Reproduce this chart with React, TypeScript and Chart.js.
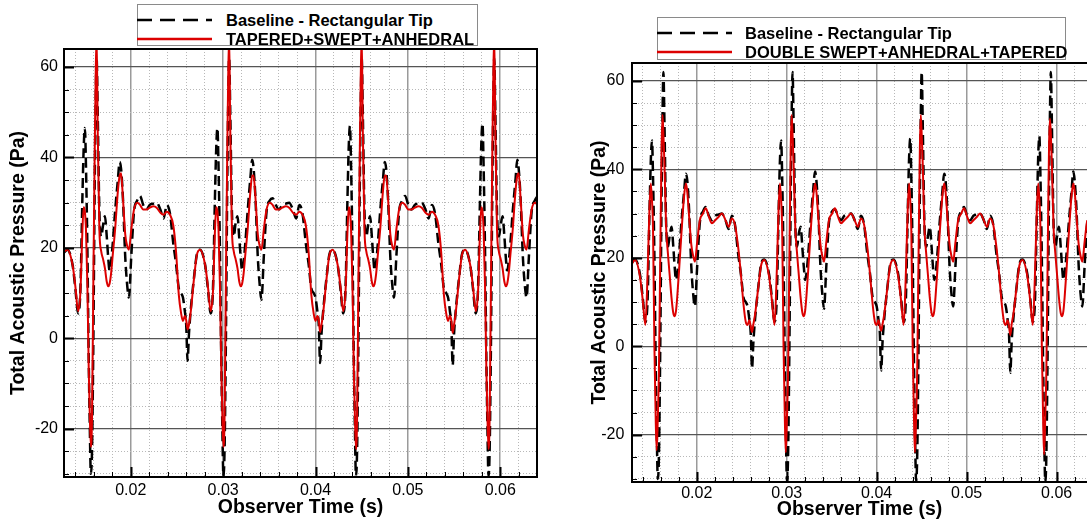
import React, { useEffect, useRef } from "react";
import { Chart, registerables } from "chart.js";

Chart.register(...registerables);

const FONT = '"Liberation Sans", Arial, Helvetica, sans-serif';

// Observer time in milliseconds
const timeMs = [
  12.8, 13.15, 13.7, 14.0, 14.3, 14.55, 14.75, 14.9, 15.03, 15.15, 15.3, 15.45, 15.55, 15.68, 15.8, 15.95, 16.1, 16.2, 16.3, 16.42, 16.6, 16.8, 17.0, 17.2, 17.4, 17.55, 17.7, 17.85, 18.05, 18.3, 18.6, 18.8, 18.95, 19.15, 19.4, 19.6, 19.8, 20.05, 20.35, 20.7, 21.0, 21.35, 21.7, 22.05, 22.45, 22.8, 23.2, 23.55, 23.9, 24.25, 24.6, 24.9, 25.2, 25.45, 25.65, 25.85, 26.0, 26.15, 26.3, 26.5, 26.85,
  27.15, 27.5, 28.05, 28.35, 28.65, 28.9, 29.1, 29.25, 29.38, 29.5, 29.65, 29.8, 29.9, 30.03, 30.15, 30.3, 30.45, 30.55, 30.65, 30.77, 30.95, 31.15, 31.35, 31.55, 31.75, 31.9, 32.05, 32.2, 32.4, 32.65, 32.95, 33.15, 33.3, 33.5, 33.75, 33.95, 34.15, 34.4, 34.7, 35.05, 35.35, 35.7, 36.05, 36.4, 36.8, 37.15, 37.55, 37.9, 38.25, 38.6, 38.95, 39.25, 39.55, 39.8, 40.0, 40.2, 40.35, 40.5, 40.65, 40.85, 41.2,
  41.5, 41.85, 42.4, 42.7, 43.0, 43.25, 43.45, 43.6, 43.73, 43.85, 44.0, 44.15, 44.25, 44.38, 44.5, 44.65, 44.8, 44.9, 45.0, 45.12, 45.3, 45.5, 45.7, 45.9, 46.1, 46.25, 46.4, 46.55, 46.75, 47.0, 47.3, 47.5, 47.65, 47.85, 48.1, 48.3, 48.5, 48.75, 49.05, 49.4, 49.7, 50.05, 50.4, 50.75, 51.15, 51.5, 51.9, 52.25, 52.6, 52.95, 53.3, 53.6, 53.9, 54.15, 54.35, 54.55, 54.7, 54.85, 55.0, 55.2, 55.55,
  55.85, 56.2, 56.75, 57.05, 57.35, 57.6, 57.8, 57.95, 58.08, 58.2, 58.35, 58.5, 58.6, 58.73, 58.85, 59.0, 59.15, 59.25, 59.35, 59.47, 59.65, 59.85, 60.05, 60.25, 60.45, 60.6, 60.75, 60.9, 61.1, 61.35, 61.65, 61.85, 62.0, 62.2, 62.45, 62.65, 62.85, 63.1, 63.4, 63.75, 64.05,
];

const baselineRectangularTip = [
  19.0, 19.6, 16.2, 11.0, 5.5, 11.0, 30.0, 42.0, 46.5, 38.0, 20.0, -5.0, -18.0, -30.0, -25.0, 0.0, 35.0, 52.0, 62.0, 50.0, 28.0, 22.5, 25.0, 27.0, 22.5, 18.0, 15.0, 16.5, 21.0, 28.0, 35.0, 39.0, 37.5, 31.0, 18.0, 12.0, 9.0, 18.0, 28.0, 30.5, 31.5, 29.5, 28.5, 29.5, 29.8, 30.0, 28.5, 26.5, 29.5, 27.5, 21.0, 16.5, 11.0, 10.0, 9.0, 6.0, 3.0, -5.0, 1.0, 6.5, 13.5,
  18.5, 19.6, 16.2, 11.0, 5.5, 11.0, 30.0, 42.0, 46.5, 38.0, 20.0, -5.0, -18.0, -30.5, -25.0, 0.0, 35.0, 52.0, 62.0, 50.0, 28.0, 22.5, 25.5, 27.0, 22.0, 18.0, 15.0, 16.5, 21.0, 28.0, 35.5, 39.5, 37.5, 31.0, 18.0, 12.0, 8.5, 18.0, 28.0, 30.5, 31.0, 29.5, 28.5, 29.5, 29.8, 30.0, 28.5, 26.5, 29.5, 27.5, 21.0, 16.5, 11.0, 10.0, 9.0, 6.0, 3.0, -5.5, 1.0, 6.5, 13.5,
  18.5, 19.6, 16.2, 11.0, 5.5, 11.0, 30.0, 42.5, 47.0, 38.0, 20.0, -5.0, -18.0, -30.5, -25.0, 0.0, 35.0, 52.0, 62.0, 50.0, 28.0, 22.5, 25.0, 27.0, 22.5, 18.0, 15.0, 16.5, 21.0, 28.0, 35.0, 39.0, 37.5, 31.0, 18.0, 12.0, 9.0, 18.0, 28.0, 30.5, 31.5, 29.5, 28.5, 29.5, 29.8, 30.0, 28.5, 26.5, 29.5, 27.5, 21.0, 16.5, 11.0, 10.0, 9.0, 6.0, 3.0, -6.0, 1.0, 6.5, 13.5,
  18.5, 19.6, 16.2, 11.0, 5.5, 11.0, 30.0, 43.0, 47.5, 38.0, 20.0, -5.0, -18.0, -30.5, -25.0, 0.0, 35.0, 52.0, 62.0, 50.0, 28.0, 22.5, 25.0, 27.0, 22.5, 18.0, 15.0, 16.5, 21.0, 28.0, 35.0, 39.5, 37.5, 31.0, 18.0, 12.0, 9.0, 18.0, 28.0, 30.5, 31.5,
];

const taperedSweptAnhedral = [
  19.2, 19.6, 16.2, 11.5, 6.0, 10.4, 23.0, 29.0, 28.0, 24.0, 12.0, -7.0, -16.0, -24.0, -18.0, 13.0, 42.0, 58.0, 67.0, 46.0, 24.0, 19.2, 17.5, 15.5, 12.5, 11.5, 12.0, 14.0, 18.5, 24.0, 32.5, 36.0, 36.5, 31.0, 23.0, 20.5, 19.6, 24.0, 28.5, 30.0, 29.5, 28.5, 28.5, 28.9, 29.2, 28.9, 27.8, 27.3, 28.0, 27.3, 25.0, 19.2, 9.6, 5.5, 3.8, 4.9, 4.0, 2.0, 3.0, 6.0, 13.3,
  18.4, 19.6, 16.2, 11.5, 6.0, 10.4, 23.0, 29.0, 28.0, 24.0, 12.0, -7.0, -16.0, -24.0, -18.0, 13.0, 42.0, 58.0, 67.0, 46.0, 24.0, 19.2, 17.5, 15.5, 12.5, 11.5, 12.0, 14.0, 18.5, 24.0, 32.5, 36.0, 36.0, 31.0, 23.0, 20.5, 19.6, 24.0, 28.5, 30.0, 29.5, 28.5, 28.5, 28.9, 29.2, 28.9, 27.8, 27.3, 28.0, 27.3, 25.0, 19.2, 9.6, 5.5, 3.8, 4.9, 4.0, 1.4, 3.0, 6.0, 13.3,
  18.4, 19.6, 16.2, 11.5, 6.0, 10.4, 23.0, 29.0, 28.0, 24.0, 12.0, -7.0, -16.0, -24.5, -18.0, 13.0, 42.0, 58.0, 67.0, 46.0, 24.0, 19.2, 17.5, 15.5, 12.5, 11.5, 12.0, 14.0, 18.5, 24.0, 32.5, 36.0, 36.0, 31.0, 23.0, 20.5, 19.6, 24.0, 28.5, 30.0, 29.5, 28.5, 28.5, 28.9, 29.2, 28.9, 27.8, 27.3, 28.0, 27.3, 25.0, 19.2, 9.6, 5.5, 3.8, 4.9, 4.0, 1.2, 3.0, 6.0, 13.3,
  18.4, 19.6, 16.2, 11.5, 6.0, 10.4, 23.0, 29.0, 28.0, 24.0, 12.0, -7.0, -16.0, -24.5, -18.0, 13.0, 42.0, 58.0, 67.0, 46.0, 24.0, 19.2, 17.5, 15.5, 12.5, 11.5, 12.0, 14.0, 18.5, 24.0, 32.5, 36.0, 36.5, 31.0, 23.0, 20.5, 19.6, 24.0, 28.5, 30.0, 29.5,
];

const doubleSweptAnhedralTapered = [
  18.7, 19.5, 15.7, 10.5, 4.8, 17.0, 31.0, 36.8, 33.0, 26.0, 0.0, -17.0, -23.5, -16.0, -6.0, 20.0, 45.0, 52.3, 48.0, 41.0, 27.0, 21.0, 16.0, 11.0, 7.5, 6.8, 8.0, 11.5, 17.5, 25.5, 34.0, 36.8, 35.0, 29.5, 23.0, 20.5, 19.1, 23.5, 28.5, 30.0, 31.2, 29.3, 27.8, 28.5, 29.3, 30.0, 28.5, 27.0, 28.9, 27.5, 22.5, 16.5, 9.5, 5.5, 4.8, 5.9, 4.5, 3.2, 5.0, 7.4, 13.4,
  18.2, 19.5, 15.7, 10.5, 4.8, 17.0, 31.0, 36.8, 33.0, 26.0, 0.0, -17.0, -24.0, -16.0, -6.0, 20.0, 45.0, 52.3, 48.0, 41.0, 27.0, 21.0, 16.0, 11.0, 7.5, 6.8, 8.0, 11.5, 17.5, 25.5, 34.0, 36.8, 35.0, 29.5, 23.0, 20.5, 19.1, 23.5, 28.5, 30.0, 31.2, 29.3, 27.8, 28.5, 29.3, 30.0, 28.5, 27.0, 28.9, 27.5, 22.5, 16.5, 9.5, 5.5, 4.8, 5.9, 4.5, 3.5, 5.0, 7.4, 13.4,
  18.2, 19.5, 15.7, 10.5, 4.8, 17.0, 31.0, 36.8, 33.0, 26.0, 0.0, -17.0, -24.0, -16.0, -6.0, 20.0, 45.0, 52.3, 48.0, 41.0, 27.0, 21.0, 16.0, 11.0, 7.5, 6.8, 8.0, 11.5, 17.5, 25.5, 34.0, 36.8, 35.0, 29.5, 23.0, 20.5, 19.1, 23.5, 28.5, 30.0, 31.2, 29.3, 27.8, 28.5, 29.3, 30.0, 28.5, 27.0, 28.9, 27.5, 22.5, 16.5, 9.5, 5.5, 4.8, 5.9, 4.5, 2.5, 5.0, 7.4, 13.4,
  18.2, 19.5, 15.7, 10.5, 4.8, 17.0, 31.0, 36.8, 33.0, 26.0, 0.0, -17.0, -24.5, -16.0, -6.0, 20.0, 45.0, 51.5, 48.0, 41.0, 27.0, 21.0, 16.0, 11.0, 7.5, 6.8, 8.0, 11.5, 17.5, 25.5, 34.0, 36.8, 35.0, 29.5, 23.0, 20.5, 19.1, 23.5, 28.5, 30.0, 31.2,
];

const xTickValues = [0.014, 0.016, 0.018, 0.02, 0.022, 0.024, 0.026, 0.028, 0.03, 0.032, 0.034, 0.036, 0.038, 0.04, 0.042, 0.044, 0.046, 0.048, 0.05, 0.052, 0.054, 0.056, 0.058, 0.06, 0.062];
const xMajorValues = [0.02, 0.03, 0.04, 0.05, 0.06];
const yTickValues = [-30, -25, -20, -15, -10, -5, 0, 5, 10, 15, 20, 25, 30, 35, 40, 45, 50, 55, 60];
const yMajorValues = [-20, 0, 20, 40, 60];

const baselineLabel = "Baseline - Rectangular Tip";
const leftRedLabel = "TAPERED+SWEPT+ANHEDRAL";
const rightRedLabel = "DOUBLE SWEPT+ANHEDRAL+TAPERED";

const isMajorX = (v: number) => xMajorValues.some((m) => Math.abs(m - v) < 1e-9);
const isMajorY = (v: number) => yMajorValues.some((m) => Math.abs(m - v) < 1e-9);

const RED = "#dc0000";

type Geom = {
  width: number;
  height: number;
  areaLeft: number;
  areaTop: number;
  areaRight: number;
  areaBottom: number;
  xMin: number;
  xMax: number;
  yMin: number;
  yMax: number;
  xLabelPad: number;
  yLabelPad: number;
  xTitlePad: number;
  yTitlePad: number;
  rightBorder: boolean;
};

const framePlugin = {
  id: "frame",
  afterDatasetsDraw(chart: any, _args: any, opts: any) {
    const { ctx, chartArea: a, scales } = chart;
    ctx.save();
    ctx.strokeStyle = "#000";
    for (const v of yTickValues) {
      const py = Math.round(scales.y.getPixelForValue(v)) + 0.5;
      const major = isMajorY(v);
      ctx.lineWidth = major ? 2 : 1;
      ctx.beginPath();
      ctx.moveTo(a.left, py);
      ctx.lineTo(a.left + (major ? 10 : 5), py);
      ctx.stroke();
    }
    for (const v of xTickValues) {
      const px = Math.round(scales.x.getPixelForValue(v)) + 0.5;
      const major = isMajorX(v);
      ctx.lineWidth = major ? 2 : 1;
      ctx.beginPath();
      ctx.moveTo(px, a.bottom);
      ctx.lineTo(px, a.bottom - (major ? 10 : 5));
      ctx.stroke();
    }
    ctx.lineWidth = 2;
    ctx.beginPath();
    if (opts && opts.rightBorder) {
      ctx.rect(a.left, a.top, a.right - a.left, a.bottom - a.top);
    } else {
      ctx.moveTo(a.right + 2, a.top);
      ctx.lineTo(a.left, a.top);
      ctx.lineTo(a.left, a.bottom);
      ctx.lineTo(a.right + 2, a.bottom);
    }
    ctx.stroke();
    ctx.restore();
  },
};

function buildChart(canvas: HTMLCanvasElement, redLabel: string, redValues: number[], g: Geom) {
  const baseData = timeMs.map((t, i) => ({ x: t / 1000, y: baselineRectangularTip[i] }));
  const redData = timeMs.map((t, i) => ({ x: t / 1000, y: redValues[i] }));
  return new Chart(canvas, {
    type: "line",
    data: {
      datasets: [
        {
          label: baselineLabel,
          data: baseData,
          borderColor: "#000",
          borderWidth: 2.5,
          borderDash: [10, 5],
          pointRadius: 0,
          cubicInterpolationMode: "monotone",
          order: 2,
        },
        {
          label: redLabel,
          data: redData,
          borderColor: RED,
          borderWidth: 2,
          pointRadius: 0,
          cubicInterpolationMode: "monotone",
          order: 1,
        },
      ],
    },
    options: {
      animation: false,
      responsive: false,
      maintainAspectRatio: false,
      events: [],
      layout: { padding: { left: 0, top: g.areaTop, right: g.width - g.areaRight, bottom: 0 } },
      plugins: {
        legend: { display: false },
        tooltip: { enabled: false },
        frame: { rightBorder: g.rightBorder },
      } as any,
      scales: {
        x: {
          type: "linear",
          min: g.xMin,
          max: g.xMax,
          afterBuildTicks: (s: any) => {
            s.ticks = xTickValues.map((v) => ({ value: v }));
          },
          afterFit: (s: any) => {
            s.height = g.height - g.areaBottom;
          },
          ticks: {
            autoSkip: false,
            maxRotation: 0,
            padding: g.xLabelPad,
            color: "#000",
            font: { family: FONT, size: 16 },
            callback: (v: any) => (isMajorX(Number(v)) ? Number(v).toFixed(2) : ""),
          },
          grid: {
            drawTicks: false,
            color: (c: any) => (c.tick && isMajorX(c.tick.value) ? "#9a9a9a" : "#b8b8b8"),
            lineWidth: (c: any) => (c.tick && isMajorX(c.tick.value) ? 1.5 : 1),
          },
          border: {
            display: false,
            dash: (c: any) => (c.tick && !isMajorX(c.tick.value) ? [1, 2] : []),
          },
          title: {
            display: true,
            text: "Observer Time (s)",
            color: "#000",
            font: { family: FONT, size: 19.5, weight: "bold" },
            padding: { top: 0, bottom: g.xTitlePad },
          },
        },
        y: {
          type: "linear",
          min: g.yMin,
          max: g.yMax,
          afterBuildTicks: (s: any) => {
            s.ticks = yTickValues.map((v) => ({ value: v }));
          },
          afterFit: (s: any) => {
            s.width = g.areaLeft;
          },
          ticks: {
            autoSkip: false,
            padding: g.yLabelPad,
            color: "#000",
            font: { family: FONT, size: 16 },
            callback: (v: any) => (isMajorY(Number(v)) ? String(v) : ""),
          },
          grid: {
            drawTicks: false,
            color: (c: any) => (c.tick && isMajorY(c.tick.value) ? "#555" : "#b8b8b8"),
            lineWidth: (c: any) => (c.tick && isMajorY(c.tick.value) ? 1.2 : 1),
          },
          border: {
            display: false,
            dash: (c: any) => (c.tick && !isMajorY(c.tick.value) ? [1, 2] : []),
          },
          title: {
            display: true,
            text: "Total Acoustic Pressure (Pa)",
            color: "#000",
            font: { family: FONT, size: 19.5, weight: "bold" },
            padding: { top: g.yTitlePad, bottom: 0 },
          },
        },
      },
    } as any,
    plugins: [framePlugin as any],
  });
}

const leftGeom: Geom = {
  width: 545, height: 524, areaLeft: 64, areaTop: 49, areaRight: 537, areaBottom: 477,
  xMin: 0.01277, xMax: 0.06398, yMin: -30.7, yMax: 64,
  xLabelPad: 4, yLabelPad: 6, xTitlePad: 4.3, yTitlePad: 7.3, rightBorder: true,
};
const rightGeom: Geom = {
  width: 542, height: 524, areaLeft: 87, areaTop: 63, areaRight: 542, areaBottom: 482,
  xMin: 0.01281, xMax: 0.06337, yMin: -30.7, yMax: 64.05,
  xLabelPad: 2, yLabelPad: 7.7, xTitlePad: 2.3, yTitlePad: 43.3, rightBorder: false,
};

const legendTextStyle: React.CSSProperties = {
  position: "absolute",
  font: `bold 16.5px ${FONT}`,
  lineHeight: "20px",
  whiteSpace: "nowrap",
  color: "#000",
};

function Legend(props: { left: number; top: number; right: number; bottom: number; row1: number; row2: number; lineEnd: number; textLeft: number; redLabel: string }) {
  const { left, top, right, bottom, row1, row2, lineEnd, textLeft, redLabel } = props;
  return (
    <>
      <div
        style={{
          position: "absolute",
          left,
          top,
          width: right - left,
          height: bottom - top,
          border: "1px solid #8a8a8a",
          boxSizing: "border-box",
          background: "#fff",
        }}
      />
      <svg style={{ position: "absolute", left: 0, top: 0 }} width={1087} height={70}>
        <line x1={left} y1={row1} x2={lineEnd} y2={row1} stroke="#000" strokeWidth={2.5} strokeDasharray="15 8" />
        <line x1={left} y1={row2} x2={lineEnd} y2={row2} stroke={RED} strokeWidth={2.5} />
      </svg>
      <div style={{ ...legendTextStyle, left: textLeft, top: row1 - 10 }}>{baselineLabel}</div>
      <div style={{ ...legendTextStyle, left: textLeft, top: row2 - 10 }}>{redLabel}</div>
    </>
  );
}

export default function App() {
  const leftRef = useRef<HTMLCanvasElement | null>(null);
  const rightRef = useRef<HTMLCanvasElement | null>(null);

  useEffect(() => {
    const c1 = buildChart(leftRef.current!, leftRedLabel, taperedSweptAnhedral, leftGeom);
    const c2 = buildChart(rightRef.current!, rightRedLabel, doubleSweptAnhedralTapered, rightGeom);
    return () => {
      c1.destroy();
      c2.destroy();
    };
  }, []);

  return (
    <div style={{ position: "absolute", left: 0, top: 0, width: 1087, height: 524, background: "#fff", overflow: "hidden" }}>
      <canvas ref={leftRef} width={545} height={524} style={{ position: "absolute", left: 0, top: 0 }} />
      <canvas ref={rightRef} width={542} height={524} style={{ position: "absolute", left: 545, top: 0 }} />
      <Legend left={137} top={4} right={478} bottom={46} row1={20} row2={39} lineEnd={212} textLeft={226} redLabel={leftRedLabel} />
      <Legend left={657} top={17} right={1066} bottom={60} row1={33} row2={52} lineEnd={732} textLeft={745} redLabel={rightRedLabel} />
    </div>
  );
}
